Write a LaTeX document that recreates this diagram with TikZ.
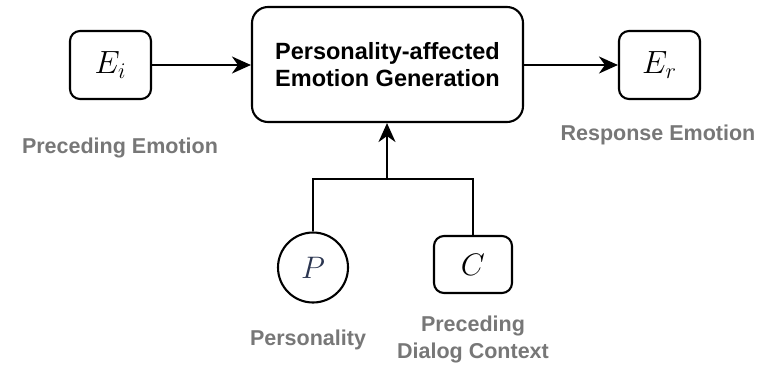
\documentclass[tikz,border=0pt]{standalone}
\usepackage{graphicx}
\usepackage{fontspec}
\setsansfont{Liberation Sans}
\usetikzlibrary{arrows.meta}
\definecolor{labelgray}{HTML}{777777}
\definecolor{pnavy}{HTML}{2B3550}
\begin{document}
\begin{tikzpicture}[x=1pt,y=-1pt,
  box/.style={draw,line width=2.1pt,rounded corners=10pt,inner sep=0pt},
  mainbox/.style={draw,line width=2.1pt,rounded corners=16pt,inner sep=0pt,align=center,
    font=\sffamily\bfseries\fontsize{23.5}{27}\selectfont},
  circ/.style={draw,line width=2.1pt,circle,inner sep=0pt,minimum size=70pt},
  mathlbl/.style={font=\fontsize{20.74}{24}\selectfont},
  graylbl/.style={text=labelgray,font=\sffamily\bfseries\fontsize{21.5}{27}\selectfont,align=center},
  conn/.style={line width=2.1pt},
  arr/.style={conn,-{Stealth[length=19pt,width=17pt,inset=6pt]}}
]
\useasboundingbox (0,0) rectangle (762,365);
\node[box,minimum width=81pt,minimum height=68pt,mathlbl] (ei) at (110.5,65) {\scalebox{1.55}{$E_i$}};
\node[mainbox,minimum width=271pt,minimum height=115pt] (gen) at (387.5,64.5) {Personality-affected\\Emotion Generation};
\node[box,minimum width=81pt,minimum height=68pt,mathlbl] (er) at (659.5,65) {\scalebox{1.55}{$E_r$}};
\node[circ,mathlbl,text=pnavy] (p) at (313,267.5) {\scalebox{1.5}{$P$}};
\node[box,minimum width=78pt,minimum height=57pt,mathlbl] (c) at (473,264.5) {\scalebox{1.5}{$C$}};
\node[graylbl] (lpe) at (120,148) {Preceding Emotion};
\node[graylbl] (lre) at (658,135) {Response Emotion};
\node[graylbl] (lp) at (308,340) {Personality};
\node[graylbl] (lc) at (473,339) {Preceding\\Dialog Context};
\coordinate (j) at (387,179);
\draw[arr] (ei.east) -- (ei.east -| gen.west);
\draw[arr] (gen.east |- er.west) -- (er.west);
\draw[conn] (p.north) |- (j) -| (c.north);
\draw[arr] (j) -- (j |- gen.south);
\end{tikzpicture}
\end{document}
